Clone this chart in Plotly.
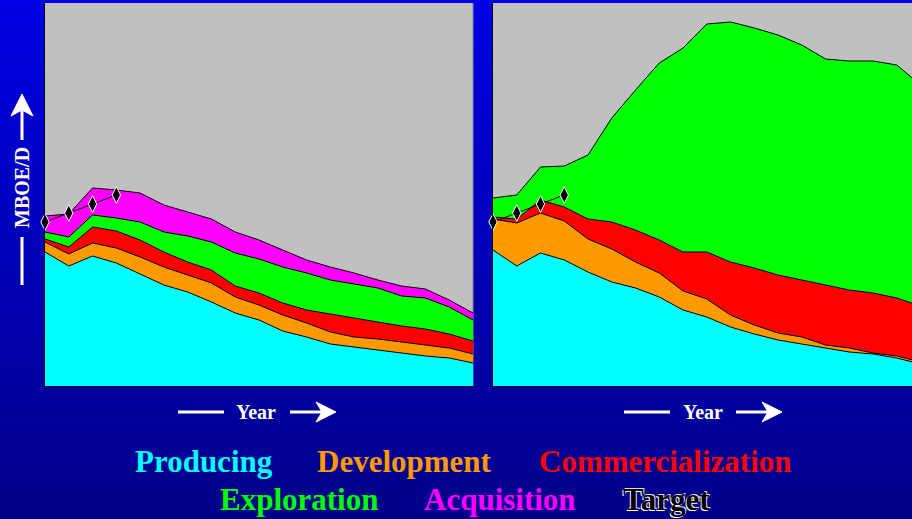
import plotly.graph_objects as go

# Period index (one step per year) for both scenarios
years = list(range(19))

# Scenario A: stacked volumes, MBOE/D (relative units)
a_producing = [134, 120, 130, 123, 112, 101, 94, 84, 73, 66, 55, 49, 42, 39, 36, 33, 30, 28, 23]
a_development = [10, 12, 13, 15, 17, 18, 17, 19, 16, 15, 16, 14, 12, 10, 11, 11, 11, 10, 9]
a_commercial = [3, 7, 16, 17, 17, 15, 13, 13, 11, 12, 12, 13, 18, 19, 17, 16, 16, 14, 13]
a_exploration = [7, 10, 12, 13, 18, 20, 26, 28, 33, 34, 36, 37, 34, 34, 34, 30, 31, 27, 21]
a_acquisition = [16, 23, 27, 28, 29, 27, 24, 23, 21, 19, 17, 13, 13, 11, 8, 10, 9, 7, 7]

# Scenario B: stacked volumes, MBOE/D (relative units)
b_producing = [136, 120, 133, 126, 114, 104, 98, 89, 76, 69, 59, 52, 46, 42, 38, 34, 32, 28, 22]
b_development = [31, 43, 40, 39, 33, 33, 26, 24, 19, 18, 12, 9, 7, 7, 3, 4, 1, 2, 2]
b_commercial = [2, 4, 13, 14, 20, 27, 32, 33, 39, 47, 53, 57, 58, 57, 60, 58, 60, 58, 56]
b_exploration = [19, 24, 33, 41, 64, 104, 140, 177, 204, 228, 240, 240, 240, 235, 226, 229, 232, 233, 221]

# Target volumes for the first years
target_years = [0, 1, 2, 3]
target = [164, 173, 182, 191]

colors = {
    "Producing": "#00FFFF",
    "Development": "#FF9900",
    "Commercialization": "#FF0000",
    "Exploration": "#00FF00",
    "Acquisition": "#FF00FF",
}

W, H = 912, 519


def px(x):
    return x / W


def py(y):
    return 1 - y / H


fig = go.Figure()


def add_stack(series, xaxis, yaxis, group):
    for name, vals in series:
        fig.add_trace(go.Scatter(
            x=years, y=vals, name=name, stackgroup=group, mode="lines",
            line=dict(color="black", width=1), fillcolor=colors[name],
            xaxis=xaxis, yaxis=yaxis, showlegend=False, hoverinfo="skip",
        ))


add_stack([("Producing", a_producing), ("Development", a_development),
           ("Commercialization", a_commercial), ("Exploration", a_exploration),
           ("Acquisition", a_acquisition)], "x", "y", "a")
add_stack([("Producing", b_producing), ("Development", b_development),
           ("Commercialization", b_commercial), ("Exploration", b_exploration)],
          "x2", "y2", "b")

for xa, ya in (("x", "y"), ("x2", "y2")):
    fig.add_trace(go.Scatter(
        x=target_years, y=target, mode="lines+markers", cliponaxis=False,
        line=dict(color="black", width=1),
        marker=dict(symbol="diamond-tall", size=12, color="black",
                    line=dict(color="white", width=1)),
        xaxis=xa, yaxis=ya, showlegend=False, hoverinfo="skip",
    ))

axis_common = dict(showgrid=False, zeroline=False, showticklabels=False,
                   ticks="", showline=True, linecolor="black", linewidth=1)

y_dom = [py(386), py(3)]
x_dom_a = [px(45), px(473)]
x_dom_b = [px(493), 1.0]

# Blue vertical gradient behind everything
shapes = []
n_bands = 130
for k in range(n_bands):
    t = (k + 0.5) / n_bands
    b = round(228 - (228 - 136) * t)
    shapes.append(dict(type="rect", xref="paper", yref="paper", layer="below",
                       x0=0, x1=1, y0=1 - (k + 1) / n_bands - 0.002, y1=1 - k / n_bands,
                       fillcolor=f"rgb(0,0,{b})", line=dict(width=0)))

# Gray plotting areas
for xd in (x_dom_a, x_dom_b):
    shapes.append(dict(type="rect", xref="paper", yref="paper", layer="below",
                       x0=xd[0], x1=xd[1], y0=y_dom[0], y1=y_dom[1],
                       fillcolor="#C0C0C0", line=dict(width=0)))
# thin gray edge on the right of the first panel
shapes.append(dict(type="line", xref="paper", yref="paper", layer="below",
                   x0=x_dom_a[1], x1=x_dom_a[1], y0=y_dom[0], y1=y_dom[1],
                   line=dict(color="#8a8a8a", width=1)))

white = "white"


def hline(x0, x1, y):
    return dict(type="line", xref="paper", yref="paper", x0=px(x0), x1=px(x1),
                y0=py(y), y1=py(y), line=dict(color=white, width=3))


def vline(x, y0, y1):
    return dict(type="line", xref="paper", yref="paper", x0=px(x), x1=px(x),
                y0=py(y0), y1=py(y1), line=dict(color=white, width=3))


def head_right(tip_x, y):
    pts = [(tip_x, y), (tip_x - 20, y - 10), (tip_x - 14, y), (tip_x - 20, y + 10)]
    path = "M " + " L ".join(f"{px(a):.5f},{py(b):.5f}" for a, b in pts) + " Z"
    return dict(type="path", xref="paper", yref="paper", path=path,
                fillcolor=white, line=dict(color=white, width=1))


def head_up(x, tip_y):
    pts = [(x, tip_y), (x - 11, tip_y + 22), (x, tip_y + 16), (x + 11, tip_y + 22)]
    path = "M " + " L ".join(f"{px(a):.5f},{py(b):.5f}" for a, b in pts) + " Z"
    return dict(type="path", xref="paper", yref="paper", path=path,
                fillcolor=white, line=dict(color=white, width=1))


# "Year" arrows under each panel
for x0 in (178, 624):
    shapes.append(hline(x0, x0 + 46, 412))
    shapes.append(hline(x0 + 112, x0 + 150, 412))
    shapes.append(head_right(x0 + 158, 412))

# Vertical MBOE/D arrow
shapes.append(vline(22, 285, 237))
shapes.append(vline(22, 140, 108))
shapes.append(head_up(22, 94))

annotations = []
serif = "Liberation Serif"
for xc in (256, 703):
    annotations.append(dict(xref="paper", yref="paper", x=px(xc), y=py(412),
                            text="<b>Year</b>", showarrow=False,
                            font=dict(family=serif, size=20, color="white"),
                            xanchor="center", yanchor="middle"))
annotations.append(dict(xref="paper", yref="paper", x=px(22), y=py(188),
                        text="<b>MBOE/D</b>", showarrow=False, textangle=-90,
                        font=dict(family=serif, size=20, color="white"),
                        xanchor="center", yanchor="middle"))

legend_items = [
    ("Producing", 204, 461, colors["Producing"]),
    ("Development", 404, 461, colors["Development"]),
    ("Commercialization", 665, 461, colors["Commercialization"]),
    ("Exploration", 299, 499, colors["Exploration"]),
    ("Acquisition", 500, 499, colors["Acquisition"]),
]
for text, xc, yc, col in legend_items:
    annotations.append(dict(xref="paper", yref="paper", x=px(xc), y=py(yc),
                            text=f"<b>{text}</b>", showarrow=False,
                            font=dict(family=serif, size=31, color=col),
                            xanchor="center", yanchor="middle"))
annotations.append(dict(xref="paper", yref="paper", x=px(666), y=py(499),
                        text="<b>Target</b>", showarrow=False,
                        font=dict(family=serif, size=31, color="black",
                                  shadow="-1px 1px 0 white, 1px -1px 0 #dddddd"),
                        xanchor="center", yanchor="middle"))

fig.update_layout(
    width=W, height=H,
    margin=dict(l=0, r=0, t=0, b=0),
    paper_bgcolor="rgb(0,0,180)",
    plot_bgcolor="#C0C0C0",
    showlegend=False,
    xaxis=dict(domain=x_dom_a, range=[0, 18], **axis_common),
    yaxis=dict(domain=y_dom, range=[0, 383], **axis_common),
    xaxis2=dict(domain=x_dom_b, range=[0, 17.64], anchor="y2", **axis_common),
    yaxis2=dict(domain=y_dom, range=[0, 383], anchor="x2", **axis_common),
    shapes=shapes,
    annotations=annotations,
)

fig.write_html("out.html")
